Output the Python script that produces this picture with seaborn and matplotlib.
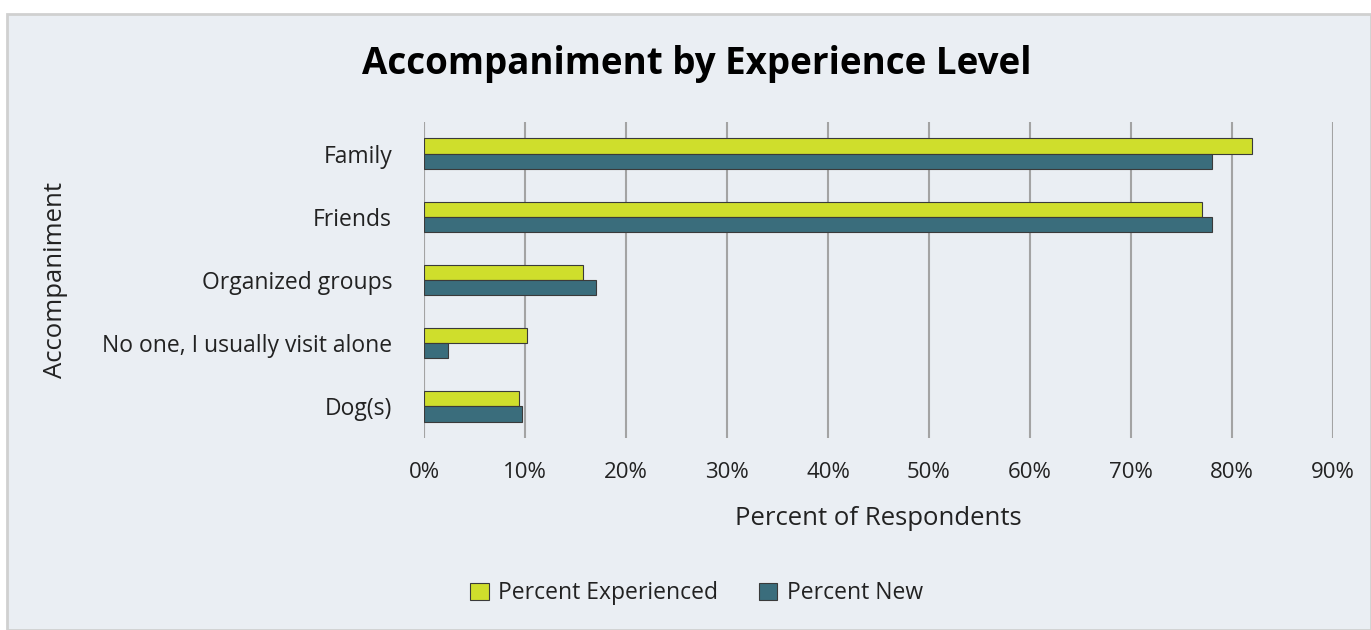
import pandas as pd
import numpy as np
import matplotlib.pyplot as plt
import seaborn as sns
from matplotlib.patches import Rectangle

categories = ["Family", "Friends", "Organized groups", "No one, I usually visit alone", "Dog(s)"]
pct_experienced = [82, 77, 15.7, 10.2, 9.4]
pct_new = [78, 78, 17, 2.4, 9.7]
series = ["Percent Experienced", "Percent New"]
xticks = [0, 10, 20, 30, 40, 50, 60, 70, 80, 90]

df = pd.DataFrame({
    "Accompaniment": categories * 2,
    "Percent": pct_experienced + pct_new,
    "Series": [series[0]] * len(categories) + [series[1]] * len(categories),
})

bg = "#EAEEF3"
sns.set_style("white")
plt.rcParams['font.family'] = ['Open Sans', 'DejaVu Sans']

fig = plt.figure(figsize=(13.71, 6.3), dpi=100, facecolor="white")
fig.patches.append(Rectangle((0.005, 0.0), 0.995, 0.978, transform=fig.transFigure,
                             facecolor=bg, edgecolor="#D0D0D0", linewidth=2, zorder=-10))
ax = fig.add_axes([424 / 1371, 1 - 438 / 630, (1333 - 424) / 1371, (438 - 122) / 630])
ax.set_facecolor(bg)

sns.barplot(data=df, y="Accompaniment", x="Percent", hue="Series", hue_order=series,
            palette=["#CFDE2C", "#3A6D7C"], saturation=1, width=0.48, orient="h",
            edgecolor="#3A3A3A", linewidth=0.8, ax=ax, legend=True)

ax.set_xlim(0, 90)
ax.set_ylim(4.5, -0.5)
ax.set_xticks(xticks)
ax.set_xticklabels([f"{t}%" for t in xticks], fontsize=16, color="#222222")
ax.tick_params(axis="y", labelsize=16.5, colors="#222222", length=0, pad=23)
ax.tick_params(axis="x", length=0, pad=17)
ax.xaxis.grid(True, color="#A3A3A3", linewidth=1.5)
ax.set_axisbelow(True)
for s in ax.spines.values():
    s.set_visible(False)
ax.axvline(0, color="#C8C8C8", linewidth=1.5, zorder=0)

ax.set_xlabel("Percent of Respondents", fontsize=18.5, color="#222222", labelpad=17)
ax.set_ylabel("Accompaniment", fontsize=18.5, color="#222222", labelpad=0)
ax.yaxis.set_label_coords(-0.392, 0.5)

fig.text(0.508, 0.898, "Accompaniment by Experience Level", ha="center", va="center",
         fontsize=26.5, fontweight="bold", color="black")

handles, labels = ax.get_legend_handles_labels()
ax.legend_.remove()
fig.legend(handles, labels, loc="center", bbox_to_anchor=(0.508, 0.058), ncol=2,
           frameon=False, fontsize=16.5, handlelength=0.8, handleheight=0.8,
           handletextpad=0.4, columnspacing=1.8, labelcolor="#222222")

fig.savefig("out.png", dpi=100, facecolor=fig.get_facecolor())
